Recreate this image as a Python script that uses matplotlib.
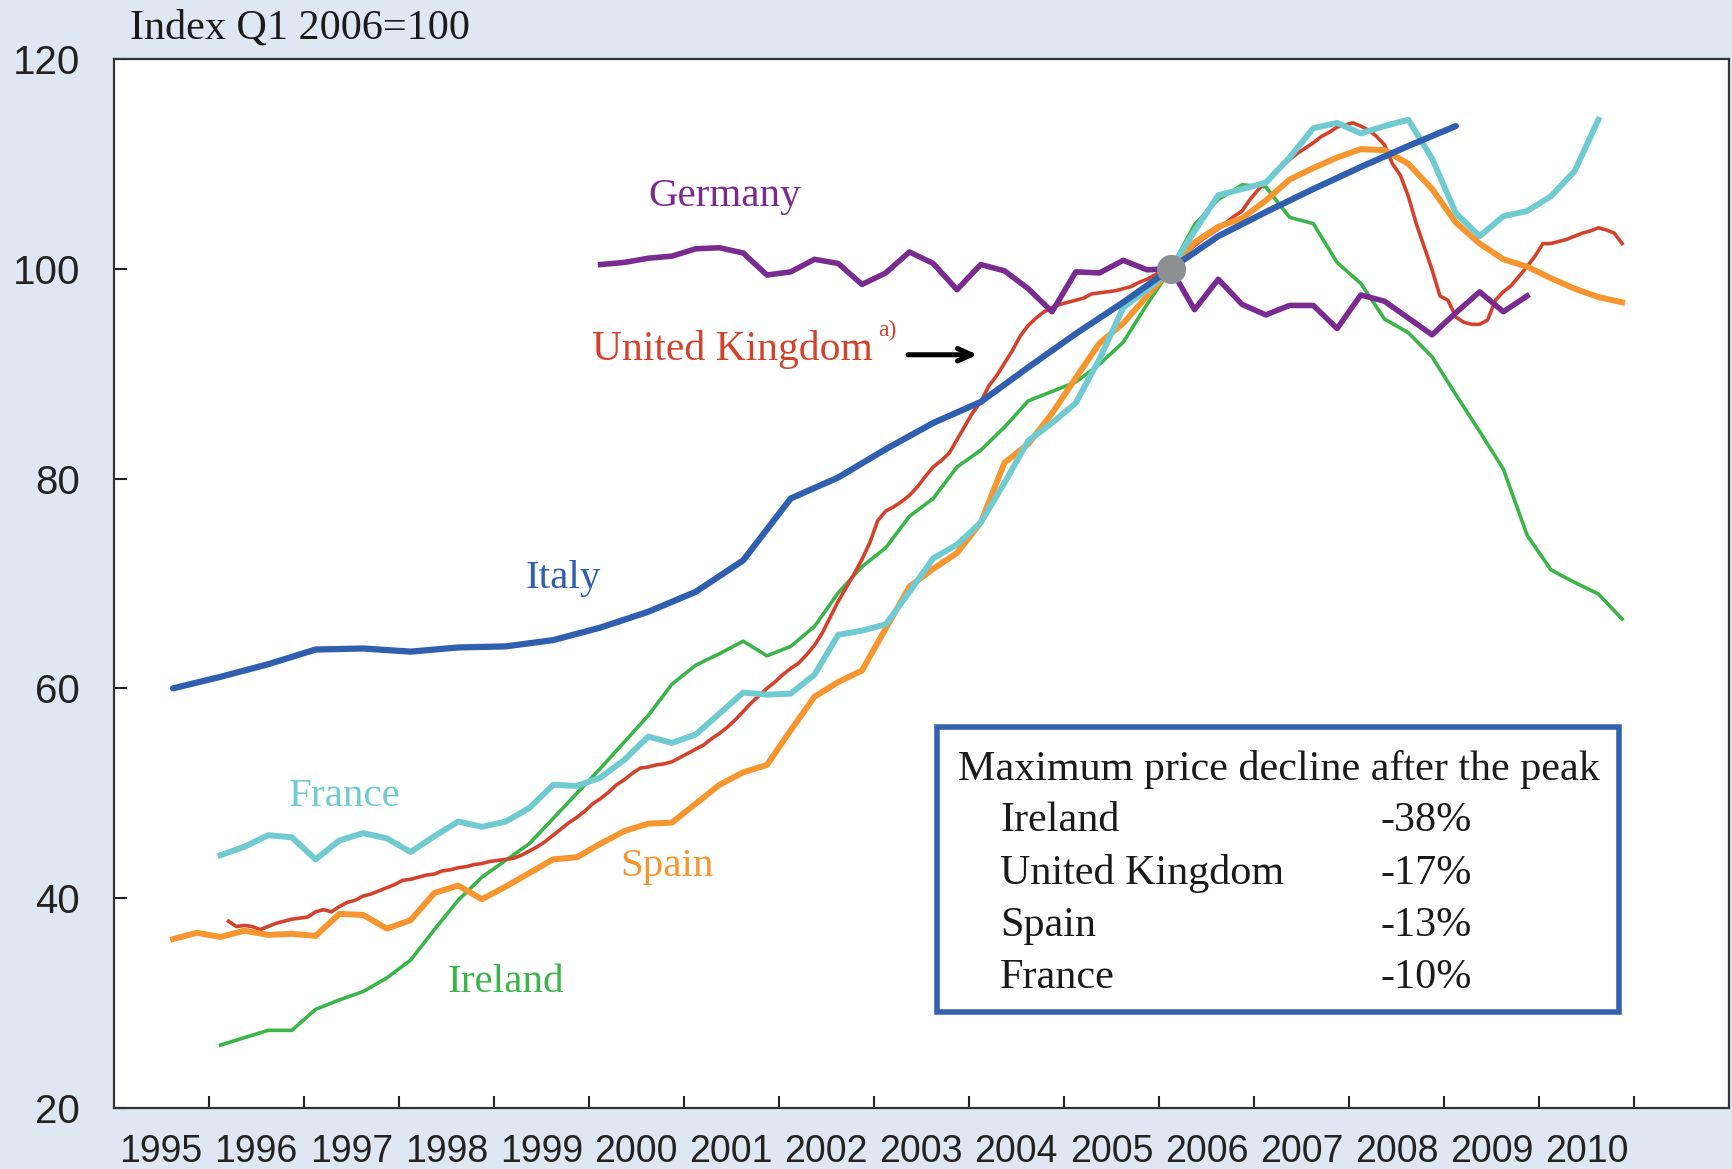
import numpy as np
import matplotlib
matplotlib.use("Agg")
import matplotlib.pyplot as plt
from matplotlib import font_manager
from matplotlib.patches import Rectangle

# quarterly series, values (Q1 2006 = 100)
italy_start = 1995.625   # semi-annual, from H2 1995
italy = [60.0, 61.1, 62.3, 63.7, 63.8, 63.5, 63.9, 64.0, 64.6, 65.8,
         67.3, 69.2, 72.2, 78.1, 80.1, 82.8, 85.3, 87.3, 90.6, 93.8,
         96.8, 100.0, 103.1, 105.4, 107.6, 109.7, 111.7, 113.6]

spain_start = 1995.625
spain = [36.1, 36.7, 36.3, 36.9, 36.5, 36.6, 36.4, 38.5, 38.4, 37.1,
         37.9, 40.5, 41.2, 39.9, 41.1, 42.4, 43.7, 43.9, 45.2, 46.4,
         47.1, 47.2, 49.0, 50.8, 52.0, 52.7, 56.0, 59.2, 60.6, 61.7,
         65.7, 69.7, 71.4, 72.9, 75.8, 81.5, 83.3, 86.2, 89.6, 92.9,
         94.8, 97.4, 100.0, 102.5, 104.0, 104.8, 106.5, 108.5, 109.6, 110.6,
         111.4, 111.3, 110.0, 107.6, 104.4, 102.4, 100.9, 100.2, 99.1, 98.1,
         97.3, 96.8]

france_start = 1996.125
france = [44.1, 44.9, 46.0, 45.8, 43.7, 45.5, 46.2, 45.7, 44.4, 45.9,
          47.3, 46.8, 47.3, 48.6, 50.8, 50.7, 51.5, 53.2, 55.4, 54.8,
          55.6, 57.6, 59.6, 59.4, 59.5, 61.3, 65.1, 65.5, 66.1, 69.2,
          72.4, 73.7, 75.8, 79.6, 83.6, 85.3, 87.2, 91.4, 96.3, 98.0,
          100.0, 103.6, 107.0, 107.6, 108.2, 110.6, 113.4, 113.9, 112.9, 113.6,
          114.2, 110.5, 105.3, 103.1, 105.0, 105.5, 106.9, 109.3, 114.2]

ireland_start = 1996.125
ireland = [26.0, 26.7, 27.4, 27.4, 29.4, 30.3, 31.1, 32.4, 34.1, 37.0,
           39.8, 42.0, 43.6, 45.2, 47.6, 50.0, 52.4, 54.9, 57.4, 60.4,
           62.2, 63.3, 64.5, 63.1, 64.0, 65.9, 69.1, 71.6, 73.4, 76.4,
           78.1, 81.1, 82.7, 84.9, 87.4, 88.3, 89.2, 90.9, 93.0, 96.6,
           100.0, 104.2, 106.6, 108.0, 107.8, 104.9, 104.3, 100.6, 98.6, 95.2,
           93.9, 91.6, 88.0, 84.5, 80.9, 74.6, 71.3, 70.1, 69.0, 66.6]

germany_start = 2000.125
germany = [100.4, 100.6, 101.0, 101.2, 101.9, 102.0, 101.5, 99.4, 99.7, 100.9,
           100.5, 98.5, 99.6, 101.6, 100.5, 98.0, 100.4, 99.8, 98.1, 95.9,
           99.7, 99.6, 100.8, 99.9, 100.0, 96.1, 99.0, 96.6, 95.6, 96.5,
           96.5, 94.3, 97.5, 96.9, 95.3, 93.7, 95.8, 97.8, 95.9, 97.4]

# monthly, Mar 1996 - Nov 2010
uk_start = 1996 + 2.5 / 12
uk = [37.8, 37.3, 37.4, 37.3, 37.0, 37.3, 37.6, 37.8, 38.0, 38.1,
      38.2, 38.7, 38.9, 38.7, 39.2, 39.6, 39.8, 40.2, 40.4, 40.7, 41.0, 41.3,
      41.7, 41.8, 42.0, 42.2, 42.3, 42.6, 42.7, 42.9, 43.0, 43.2, 43.3, 43.5,
      43.6, 43.7, 43.8, 44.1, 44.5, 44.9, 45.4, 46.0, 46.6, 47.2, 47.7, 48.3,
      49.0, 49.5, 50.1, 50.8, 51.3, 51.9, 52.4, 52.5, 52.7, 52.8, 53.0, 53.4,
      53.8, 54.2, 54.6, 55.2, 55.7, 56.3, 57.0, 57.8, 58.6, 59.3, 60.0, 60.6,
      61.3, 61.9, 62.4, 63.2, 64.1, 65.3, 66.8, 68.3, 69.6, 70.9, 72.3, 73.9,
      76.0, 76.9, 77.3, 77.8, 78.4, 79.2, 80.2, 81.1, 81.7, 82.4, 83.7, 85.0,
      86.3, 87.3, 88.8, 89.8, 91.0, 92.2, 93.6, 94.6, 95.3, 95.9, 96.3, 96.6,
      96.8, 97.0, 97.2, 97.6, 97.7, 97.8, 97.9, 98.1, 98.3, 98.7, 99.0, 99.4,
      99.9, 100.3, 100.9, 101.6, 102.2, 102.8, 103.3, 103.8, 104.4, 105.0, 105.5, 106.6,
      107.5, 108.3, 109.0, 109.7, 110.4, 111.0, 111.5, 112.0, 112.6, 113.0, 113.5, 113.7,
      113.9, 113.6, 113.2, 112.6, 111.8, 110.0, 108.9, 106.9, 104.3, 102.1, 99.9, 97.4,
      97.0, 95.4, 94.9, 94.7, 94.7, 95.1, 97.0, 97.8, 98.4, 99.3, 100.2, 101.2,
      102.4, 102.4, 102.6, 102.8, 103.1, 103.4, 103.6, 103.9, 103.7, 103.4, 102.4]

years = list(range(1995, 2011))
box_title = "Maximum price decline after the peak"
box_rows = ["Ireland", "United Kingdom", "Spain", "France"]
box_vals = ["-38%", "-17%", "-13%", "-10%"]

C_IT = "#2f5fae"
C_DE = "#7a2b8f"
C_FR = "#70cbd1"
C_ES = "#f7962f"
C_IE = "#3bb44a"
C_UK = "#d2432e"
BG = "#dfe7f2"

SERIF = ["Liberation Serif", "DejaVu Serif"]
SANS = ["Liberation Sans", "DejaVu Sans"]

# year labels are condensed in the original; use the narrow face when present
installed = {f.name for f in font_manager.fontManager.ttflist}
if "Liberation Sans Narrow" in installed:
    XFONT, XSIZE = ["Liberation Sans Narrow"], 30
else:
    XFONT, XSIZE = SANS, 27


def xs(start, n, step=0.25):
    return start + step * np.arange(n)


fig = plt.figure(figsize=(17.33, 11.69), dpi=100)
fig.patch.set_facecolor(BG)
ax = fig.add_axes([0.0656, 0.0522, 0.9321, 0.8974])
ax.set_facecolor("white")

ax.plot(xs(ireland_start, len(ireland)), ireland, color=C_IE, lw=2.6, zorder=2)
ax.plot(xs(uk_start, len(uk), 1 / 12), uk, color=C_UK, lw=2.6, zorder=3)
ax.plot(xs(spain_start, len(spain)), spain, color=C_ES, lw=4.3, zorder=4)
ax.plot(xs(france_start, len(france)), france, color=C_FR, lw=4.3, zorder=5)
ax.plot(xs(italy_start, len(italy), 0.5), italy, color=C_IT, lw=4.5, zorder=6,
        solid_capstyle="round")
ax.plot(xs(germany_start, len(germany)), germany, color=C_DE, lw=4.0, zorder=7)
ax.plot([2006.125], [100], "o", color="#8e8f93", ms=20, zorder=8)

ax.set_xlim(1995, 2012)
ax.set_ylim(20, 120)

ax.set_yticks([20, 40, 60, 80, 100, 120])
ax.tick_params(axis="y", direction="in", length=9, width=1.5, pad=24,
               labelsize=29, colors="#222222")
ax.set_xticks([y + 0.5 for y in years])
ax.set_xticklabels([str(y) for y in years])
ax.set_xticks(np.arange(1996, 2012), minor=True)
ax.tick_params(axis="x", which="major", length=0, pad=19, labelsize=XSIZE,
               colors="#222222")
ax.tick_params(axis="x", which="minor", direction="in", length=9, width=1.5,
               colors="#222222")
for lab in ax.get_yticklabels():
    lab.set_family(SANS)
for lab in ax.get_xticklabels():
    lab.set_family(XFONT)
for s in ax.spines.values():
    s.set_linewidth(1.6)
    s.set_color("#333333")

# series labels
lab_kw = dict(family=SERIF, fontsize=29.5, ha="center", va="center", zorder=9)
ax.text(2001.43, 106.9, "Germany", color=C_DE, **lab_kw)
ax.text(1999.73, 70.5, "Italy", color=C_IT, **lab_kw)
ax.text(1997.43, 49.7, "France", color=C_FR, **lab_kw)
ax.text(2000.82, 43.0, "Spain", color=C_ES, **lab_kw)
ax.text(1999.13, 32.0, "Ireland", color=C_IE, **lab_kw)
ax.text(2000.03, 92.3, "United Kingdom", color=C_UK, family=SERIF,
        fontsize=30, ha="left", va="center")
ax.text(2003.04, 94.1, "a)", color=C_UK, family=SERIF, fontsize=17,
        ha="left", va="center")
ax.annotate("", xy=(2004.12, 91.8), xytext=(2003.33, 91.8),
            arrowprops=dict(arrowstyle="->,head_length=1.0,head_width=0.45",
                            color="black", lw=3.6))

# inset box with the declines
ax.add_patch(Rectangle((2003.66, 29.15), 2010.84 - 2003.66, 56.3 - 29.15,
                       facecolor="white", edgecolor="#3462b0", lw=4, zorder=10))
ax.text(2003.89, 52.3, box_title, family=SERIF, fontsize=30.3, ha="left",
        va="center", color="#1a1a1a", zorder=11)
for i, (name, val) in enumerate(zip(box_rows, box_vals)):
    yy = 47.35 - i * 4.98
    ax.text(2004.33, yy, name, family=SERIF, fontsize=30.3, ha="left",
            va="center", color="#1a1a1a", zorder=11)
    ax.text(2009.29, yy, val, family=SERIF, fontsize=30.3, ha="right",
            va="center", color="#1a1a1a", zorder=11)

fig.text(0.075, 0.9755, "Index Q1 2006=100", family=SERIF, fontsize=30.3,
         ha="left", va="center", color="#1a1a1a")

fig.savefig("out.png", dpi=100, facecolor=fig.get_facecolor())
